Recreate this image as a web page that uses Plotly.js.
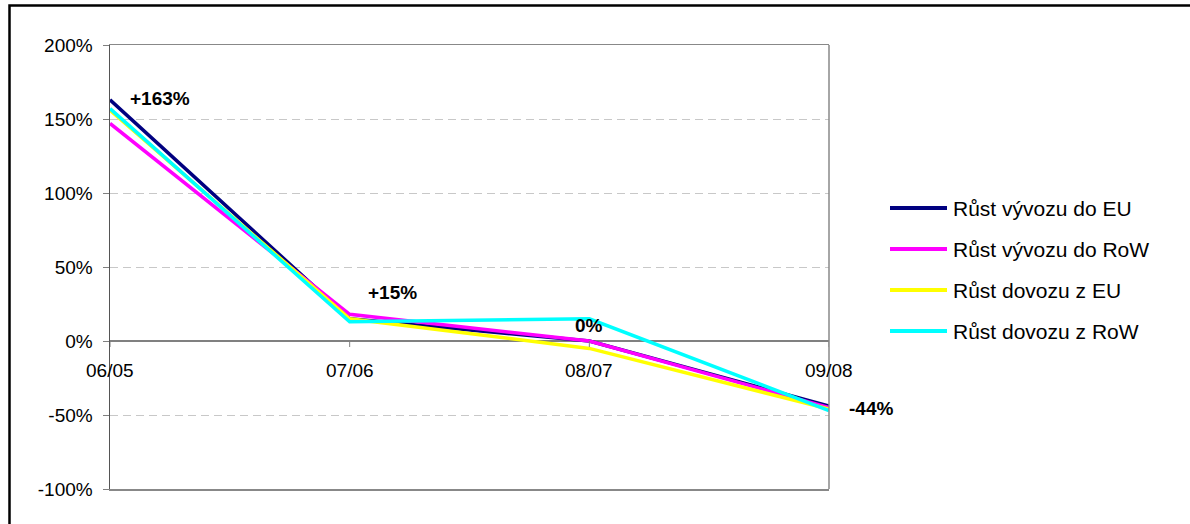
<!DOCTYPE html>
<html>
<head>
<meta charset="utf-8">
<script src="https://cdn.plot.ly/plotly-3.0.1.min.js"></script>
<style>
  html, body { margin: 0; padding: 0; background: #ffffff; }
  #chart { width: 1190px; height: 524px; }
</style>
</head>
<body>
<div id="chart"></div>
<script>
// Periods (year-on-year comparison)
const periods = ['06/05', '07/06', '08/07', '09/08'];

// Growth rates in percent
const exportEU  = [163, 15, 0, -44];
const exportRoW = [147, 18, 0, -45];
const importEU  = [156, 15, -5, -46];
const importRoW = [157, 13, 15, -47];

const seriesNames  = ['Růst vývozu do EU', 'Růst vývozu do RoW', 'Růst dovozu z EU', 'Růst dovozu z RoW'];
const seriesColors = ['#000080', '#ff00ff', '#ffff00', '#00ffff'];
const seriesValues = [exportEU, exportRoW, importEU, importRoW];

// Y axis ticks
const yTicks = [-100, -50, 0, 50, 100, 150, 200];

const W = 1190, H = 524;
const M = { l: 110, r: 361, t: 45, b: 35 };
const plotW = W - M.l - M.r, plotH = H - M.t - M.b;
const px = x => (x - M.l) / plotW;          // pixel x -> paper x
const py = y => (H - M.b - y) / plotH;      // pixel y -> paper y

const FONT = 'Liberation Sans, Arial, sans-serif';
const idx = periods.map((_, i) => i);

const traces = seriesValues.map((vals, k) => ({
  type: 'scatter',
  mode: 'lines',
  x: idx,
  y: vals,
  name: seriesNames[k],
  line: { color: seriesColors[k], width: 3.5 },
  showlegend: false,
  hoverinfo: 'skip'
}));

const fmt = v => (v > 0 ? '+' : '') + v + '%';

const annotations = [];
// period labels sit just under the 0% line
periods.forEach((p, i) => annotations.push({
  x: i, y: 0, xref: 'x', yref: 'y', text: p, showarrow: false,
  xanchor: 'center', yanchor: 'middle', yshift: -29,
  font: { family: FONT, size: 19, color: '#000000' }
}));

// value labels for the EU export series
const labelPlacement = [
  { xanchor: 'left',   xshift: 18, yshift: 1 },
  { xanchor: 'center', xshift: 43, yshift: 26 },
  { xanchor: 'center', xshift: 0,  yshift: 16 },
  { xanchor: 'left',   xshift: 18, yshift: -2 }
];
exportEU.forEach((v, i) => annotations.push({
  x: i, y: v, xref: 'x', yref: 'y', text: '<b>' + fmt(v) + '</b>', showarrow: false,
  xanchor: labelPlacement[i].xanchor, yanchor: 'middle',
  xshift: labelPlacement[i].xshift, yshift: labelPlacement[i].yshift,
  font: { family: FONT, size: 19, color: '#000000' }
}));

const shapes = [];
// tick marks on the 0% line
idx.forEach(i => shapes.push({
  type: 'line', xref: 'x', yref: 'y', ysizemode: 'pixel', yanchor: 0,
  x0: i, x1: i, y0: 0, y1: -6, line: { color: '#808080', width: 1 }
}));
// right border of the plot area
shapes.push({ type: 'line', xref: 'paper', yref: 'paper', x0: 1, x1: 1, y0: 0, y1: 1,
  line: { color: '#888888', width: 1.5 } });
// outer frame of the chart
shapes.push({ type: 'rect', xref: 'paper', yref: 'paper',
  x0: px(9.5), x1: px(1230), y0: py(560), y1: py(5.5),
  line: { color: '#000000', width: 2.5 }, fillcolor: 'rgba(0,0,0,0)' });

// legend
const legendTop = 208, legendStep = 41;
seriesNames.forEach((name, k) => {
  const yy = legendTop + k * legendStep;
  shapes.push({ type: 'line', xref: 'paper', yref: 'paper',
    x0: px(890), x1: px(947), y0: py(yy), y1: py(yy),
    line: { color: seriesColors[k], width: 4 } });
  annotations.push({ xref: 'paper', yref: 'paper', x: px(951), y: py(yy), text: name,
    showarrow: false, xanchor: 'left', yanchor: 'middle',
    font: { family: FONT, size: 21, color: '#000000' } });
});

const layout = {
  width: W, height: H,
  margin: M,
  paper_bgcolor: '#ffffff',
  plot_bgcolor: '#ffffff',
  showlegend: false,
  xaxis: {
    type: 'linear', range: [0, periods.length - 1],
    showgrid: false, zeroline: false, showticklabels: false, ticks: '',
    showline: true, mirror: true, linecolor: '#888888', linewidth: 1.5
  },
  yaxis: {
    range: [-100, 200], tickvals: yTicks, ticktext: yTicks.map(v => v + '%'),
    ticks: 'outside', ticklen: 6, tickcolor: '#808080', tickwidth: 1,
    ticklabelstandoff: 6,
    showline: true, linecolor: '#555555', linewidth: 1.5,
    showgrid: true, gridcolor: '#c8c8c8', griddash: '8px,5px', gridwidth: 1,
    zeroline: true, zerolinecolor: '#808080', zerolinewidth: 1.5,
    tickfont: { family: FONT, size: 19, color: '#000000' }
  },
  annotations: annotations,
  shapes: shapes
};

Plotly.newPlot('chart', traces, layout, { staticPlot: true, displayModeBar: false });
</script>
</body>
</html>
